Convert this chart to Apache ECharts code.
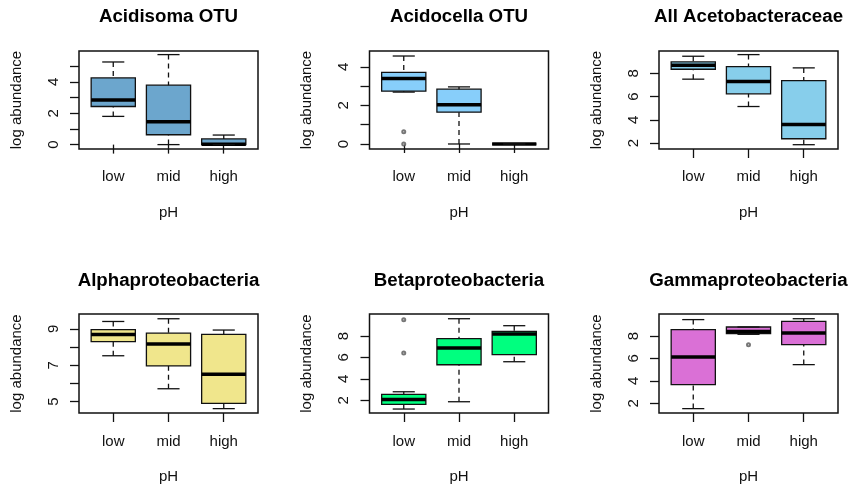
<!DOCTYPE html>
<html>
<head>
<meta charset="utf-8">
<script src="https://cdn.jsdelivr.net/npm/echarts@6/dist/echarts.min.js"></script>
<style>
html,body{margin:0;padding:0;background:#fff;}
#chart{width:852px;height:491px;}
</style>
</head>
<body>
<div id="chart"></div>
<script>
// ---- data ----
const categories = ['low', 'mid', 'high'];
const panelTitles = ['Acidisoma OTU', 'Acidocella OTU', 'All Acetobacteraceae',
                     'Alphaproteobacteria', 'Betaproteobacteria', 'Gammaproteobacteria'];
// box statistics per group: [min whisker, Q1, median, Q3, max whisker]
const acidisomaStats = [[1.80, 2.43, 2.84, 4.25, 5.27], [0.00, 0.63, 1.46, 3.79, 5.74], [0.00, 0.00, 0.02, 0.36, 0.61]];
const acidocellaStats = [[2.69, 2.74, 3.40, 3.71, 4.56], [0.00, 1.65, 2.04, 2.84, 2.96], [0.00, 0.00, 0.00, 0.00, 0.00]];
const acetobacteraceaeStats = [[7.49, 8.34, 8.69, 8.97, 9.46], [5.14, 6.23, 7.29, 8.57, 9.60], [1.86, 2.37, 3.60, 7.37, 8.46]];
const alphaStats = [[7.52, 8.29, 8.69, 8.95, 9.40], [5.71, 6.96, 8.16, 8.76, 9.55], [4.62, 4.91, 6.50, 8.69, 8.93]];
const betaStats = [[1.19, 1.62, 2.09, 2.55, 2.80], [1.87, 5.32, 6.88, 7.75, 9.61], [5.60, 6.26, 8.19, 8.43, 8.96]];
const gammaStats = [[1.53, 3.66, 6.13, 8.56, 9.46], [8.15, 8.21, 8.39, 8.80, 8.80], [5.45, 7.23, 8.27, 9.31, 9.54]];
// outliers: [group index (1-based), value]
const acidisomaOutliers = [];
const acidocellaOutliers = [[1, 0.63], [1, 0.00]];
const acetobacteraceaeOutliers = [];
const alphaOutliers = [];
const betaOutliers = [[1, 9.52], [1, 6.41]];
const gammaOutliers = [[2, 7.23]];
// y axis ticks and labels
const yTicks = [[0, 1, 2, 3, 4, 5], [0, 1, 2, 3, 4], [2, 4, 6, 8], [5, 6, 7, 8, 9], [2, 4, 6, 8], [2, 4, 6, 8]];
const yLabels = [[0, 2, 4], [0, 2, 4], [2, 4, 6, 8], [5, 7, 9], [2, 4, 6, 8], [2, 4, 6, 8]];
const yRanges = [[-0.28, 5.97], [-0.26, 4.82], [1.49, 9.91], [4.38, 9.81], [0.82, 10.05], [1.14, 9.96]];
const boxColors = ['#6CA6CD', '#87CEFA', '#87CEEB', '#F0E68C', '#00FF7F', '#DA70D6'];

const allStats = [acidisomaStats, acidocellaStats, acetobacteraceaeStats, alphaStats, betaStats, gammaStats];
const allOutliers = [acidisomaOutliers, acidocellaOutliers, acetobacteraceaeOutliers, alphaOutliers, betaOutliers, gammaOutliers];

// ---- layout ----
const colLefts = [79, 369.5, 659];
const rowTops = [51, 314];
const gridW = 179;
const rowHeights = [98, 99];
const titleTops = [7.5, 271.5];
const labelMargins = [20.5, 21.5];
const FONT = "'Liberation Sans', Arial, Helvetica, sans-serif";

function renderBox(params, api) {
  const x = api.value(0);
  const pMin = api.coord([x, api.value(1)]);
  const pQ1 = api.coord([x, api.value(2)]);
  const pMd = api.coord([x, api.value(3)]);
  const pQ3 = api.coord([x, api.value(4)]);
  const pMax = api.coord([x, api.value(5)]);
  const cx = pMd[0];
  const half = api.size([0.8, 0])[0] / 2;
  const sh = half / 2;
  const fill = api.visual('color');
  const solid = { stroke: '#111', lineWidth: 1.3 };
  const dashed = { stroke: '#111', lineWidth: 1.3, lineDash: [5, 4] };
  return {
    type: 'group',
    children: [
      { type: 'rect', shape: { x: cx - half, y: pQ3[1], width: 2 * half, height: pQ1[1] - pQ3[1] },
        style: { fill: fill, stroke: '#111', lineWidth: 1.3 } },
      { type: 'line', shape: { x1: cx - half, y1: pMd[1], x2: cx + half, y2: pMd[1] },
        style: { stroke: '#000', lineWidth: 3.5 } },
      { type: 'line', shape: { x1: cx, y1: pMax[1], x2: cx, y2: pQ3[1] }, style: dashed },
      { type: 'line', shape: { x1: cx, y1: pMin[1], x2: cx, y2: pQ1[1] }, style: dashed },
      { type: 'line', shape: { x1: cx - sh, y1: pMax[1], x2: cx + sh, y2: pMax[1] }, style: solid },
      { type: 'line', shape: { x1: cx - sh, y1: pMin[1], x2: cx + sh, y2: pMin[1] }, style: solid }
    ]
  };
}

const grids = [], xAxes = [], yAxes = [], series = [], titles = [];
for (let i = 0; i < 6; i++) {
  const r = Math.floor(i / 3), c = i % 3;
  grids.push({ left: colLefts[c], top: rowTops[r], width: gridW, height: rowHeights[r],
               show: true, borderColor: '#111', borderWidth: 1.5, backgroundColor: 'transparent', containLabel: false });
  titles.push({ text: panelTitles[i], left: colLefts[c] + gridW / 2, top: titleTops[r], textAlign: 'center', padding: 0,
                textStyle: { fontFamily: FONT, fontSize: 18.7, fontWeight: 'bold', color: '#000', lineHeight: 19 } });
  xAxes.push({
    gridIndex: i, type: 'value', min: 0.38, max: 3.62,
    axisLine: { show: false }, splitLine: { show: false },
    axisTick: { show: true, length: 9, customValues: [1, 2, 3], lineStyle: { color: '#111', width: 1.3 } },
    axisLabel: { customValues: [1, 2, 3], margin: labelMargins[r], formatter: v => categories[Math.round(v) - 1],
                 fontFamily: FONT, fontSize: 15, color: '#111' },
    name: 'pH', nameLocation: 'middle', nameGap: 56.5,
    nameTextStyle: { fontFamily: FONT, fontSize: 15, color: '#111' }
  });
  yAxes.push({
    gridIndex: i, type: 'value', min: yRanges[i][0], max: yRanges[i][1],
    axisLine: { show: false }, splitLine: { show: false },
    axisTick: { show: true, length: 9, customValues: yTicks[i], lineStyle: { color: '#111', width: 1.3 } },
    axisLabel: { customValues: yLabels[i], rotate: 90, margin: 18, fontFamily: FONT, fontSize: 15, color: '#111' },
    name: 'log abundance', nameLocation: 'middle', nameGap: 55, nameRotate: 90,
    nameTextStyle: { fontFamily: FONT, fontSize: 15, color: '#111' }
  });
  series.push({
    type: 'custom', xAxisIndex: i, yAxisIndex: i,
    itemStyle: { color: boxColors[i] },
    encode: { x: 0, y: [1, 2, 3, 4, 5] },
    renderItem: renderBox,
    data: allStats[i].map((s, k) => [k + 1].concat(s)),
    silent: true
  });
  if (allOutliers[i].length) {
    series.push({
      type: 'scatter', xAxisIndex: i, yAxisIndex: i,
      symbol: 'emptyCircle', symbolSize: 3,
      itemStyle: { color: '#555', borderColor: '#555', borderWidth: 1 },
      data: allOutliers[i], silent: true, z: 5
    });
  }
}

const chart = echarts.init(document.getElementById('chart'), null, { renderer: 'canvas' });
chart.setOption({
  animation: false,
  backgroundColor: '#fff',
  title: titles,
  grid: grids,
  xAxis: xAxes,
  yAxis: yAxes,
  series: series
});
</script>
</body>
</html>
